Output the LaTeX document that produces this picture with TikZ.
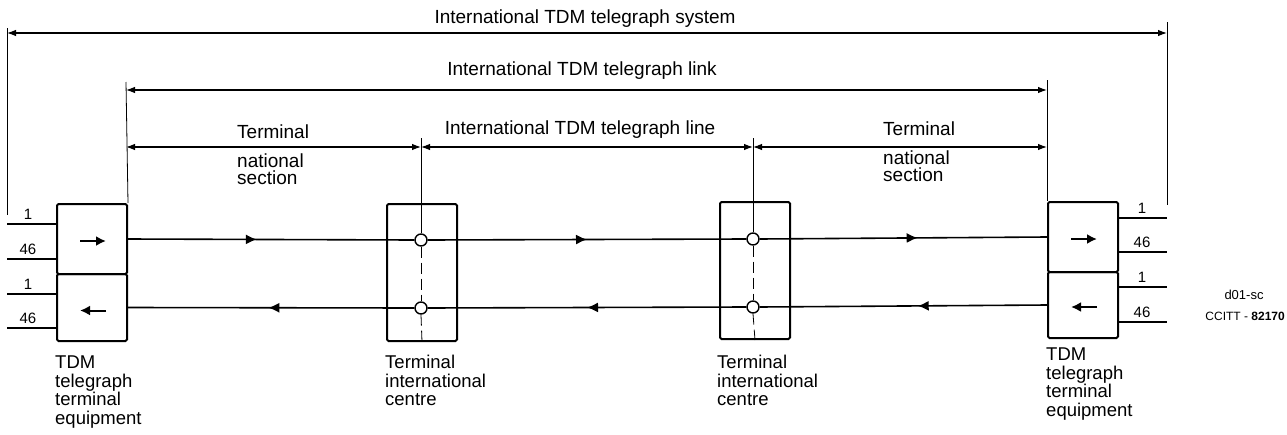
\documentclass[tikz,border=0pt]{standalone}
\usepackage{fontspec}
\setmainfont{Liberation Sans}
\usetikzlibrary{arrows.meta,decorations.markings}
\begin{document}
\begin{tikzpicture}[x=1pt,y=-1pt,
  eqbox/.style={draw,line width=2pt,rounded corners=1.5pt,minimum width=70pt,inner sep=0pt,anchor=north west},
  sig/.style={line width=1.6pt},
  thin/.style={line width=0.8pt},
  dim/.style={line width=1.1pt,{Latex[length=9pt,width=6.5pt]}-{Latex[length=9pt,width=6.5pt]}},
  arr/.style={decoration={markings,mark=at position #1 with {\arrow{Latex[length=11pt,width=10pt]}}},postaction=decorate},
  dirarr/.style={line width=2pt,-{Latex[length=10pt,width=10pt]}},
  junc/.style={circle,draw,line width=1.4pt,fill=white,minimum size=12pt,inner sep=0pt},
  lab/.style={font=\fontsize{19}{19}\selectfont,inner sep=0pt},
  lab2/.style={font=\fontsize{19}{17}\selectfont,inner sep=0pt,align=left,anchor=north west},
  num/.style={font=\fontsize{15}{15}\selectfont,inner sep=0pt,anchor=base},
  captext/.style={font=\fontsize{18.5}{18.5}\selectfont,align=left,anchor=north west,inner sep=0pt},
]
\useasboundingbox (0,0) rectangle (1287,434);

% boxes
\node[eqbox,minimum height=70pt] (La) at (56,203) {};
\node[eqbox,minimum height=67pt] (Lb) at (56,273) {};
\node[eqbox,minimum height=70pt] (Ra) at (1047,201) {};
\node[eqbox,minimum height=66pt] (Rb) at (1047,271) {};
\node[eqbox,minimum height=137pt] (C1) at (386,203) {};
\node[eqbox,minimum height=137pt] (C2) at (719,201) {};

\draw[dirarr] ([xshift=-12pt,yshift=-2pt]La.center) -- ([xshift=14pt,yshift=-2pt]La.center);
\draw[dirarr] ([xshift=14pt,yshift=-3pt]Lb.center) -- ([xshift=-12pt,yshift=-3pt]Lb.center);
\draw[dirarr] ([xshift=-12pt,yshift=-2pt]Ra.center) -- ([xshift=14pt,yshift=-2pt]Ra.center);
\draw[dirarr] ([xshift=14pt,yshift=-2pt]Rb.center) -- ([xshift=-12pt,yshift=-2pt]Rb.center);

% vertical reference lines
\coordinate (s1) at (7,28);   \coordinate (s1b) at (7,215);
\coordinate (s2) at (1167,22); \coordinate (s2b) at (1167,205);
\coordinate (k1) at (126,82);
\coordinate (k2) at (1047,80);
\coordinate (m1) at (421,138);
\coordinate (m2) at (753,138);
\draw[thin] (s1) -- (s1b);
\draw[thin] (s2) -- (s2b);
\draw[thin] (k1) -- (La.north east);
\draw[thin] (k2) -- (Ra.north west);

% junction circles
\node[junc] (a1) at (421,240) {};
\node[junc] (b1) at (421,308) {};
\node[junc] (a2) at (753,239) {};
\node[junc] (b2) at (753,307) {};

\draw[thin] (m1) -- (a1.north);
\draw[thin] (m2) -- (a2.north);
\draw[thin,dash pattern=on 11pt off 5pt] (a1.south) -- (b1.north);
\draw[thin,dash pattern=on 11pt off 5pt] (b1.south) -- (C1.south);
\draw[thin,dash pattern=on 11pt off 5pt] (a2.south) -- (b2.north);
\draw[thin,dash pattern=on 11pt off 5pt] (b2.south) -- (C2.south);

% signal lines
\draw[sig,arr=0.45] (La.east) -- (a1.west);
\draw[sig,arr=0.5] (a1.east) -- (a2.west);
\draw[sig,arr=0.55] (a2.east) -- (Ra.west);
\draw[sig,arr=0.51] (b1.west) -- (Lb.east);
\draw[sig,arr=0.5] (b2.west) -- (b1.east);
\draw[sig,arr=0.45] (Rb.west) -- (b2.east);

% dimension arrows
\draw[dim] (7,33) -- (1167,33);
\draw[dim] (126,90) -- (1047,90);
\draw[dim] (126,147) -- (421,147);
\draw[dim] (421,147) -- (753,147);
\draw[dim] (753,147) -- (1047,147);

\node[lab,anchor=base] (tsys) at (585,23) {International TDM telegraph system};
\node[lab,anchor=base] (tlink) at (582,75) {International TDM telegraph link};
\node[lab,anchor=base] (tline) at (580,134) {International TDM telegraph line};
\node[lab,anchor=base west] (tt1) at (237,138) {Terminal};
\node[lab2] (tn1) at (237,154) {national\\section};
\node[lab,anchor=base west] (tt2) at (883,135) {Terminal};
\node[lab2] (tn2) at (883,151) {national\\section};

% channel lines
\foreach \y/\t [count=\i] in {224/1,259/46,294/1,328/46}{
  \coordinate (lp\i) at (7,\y);
  \draw[sig] (lp\i) -- (56,\y);
  \node[num] at (28,\y-5) {\t};
}
\foreach \y/\t [count=\i] in {218/1,252/46,287/1,322/46}{
  \coordinate (rp\i) at (1167,\y);
  \draw[sig] (1117,\y) -- (rp\i);
  \node[num] at (1142,\y-5) {\t};
}

% captions
\node[captext] (capL) at (55,356) {TDM\\telegraph\\terminal\\equipment};
\node[captext] (capC1) at (385,355) {Terminal\\international\\centre};
\node[captext] (capC2) at (717,355) {Terminal\\international\\centre};
\node[captext] (capR) at (1046,348) {TDM\\telegraph\\terminal\\equipment};

\node[font=\fontsize{13}{13}\selectfont,inner sep=0pt] (ref1) at (1244,295) {d01-sc};
\node[font=\fontsize{12}{12}\selectfont,inner sep=0pt,anchor=east] (ref2) at (1285,316) {CCITT - \textbf{82170}};
\end{tikzpicture}
\end{document}
